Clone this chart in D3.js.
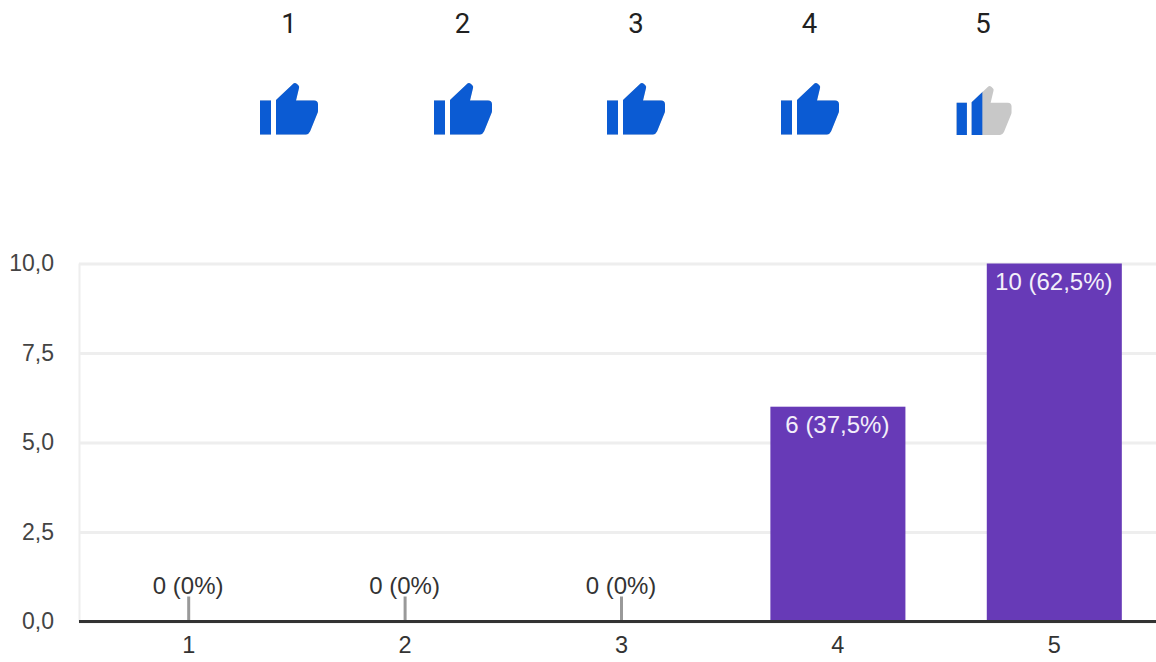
<!DOCTYPE html>
<html>
<head>
<meta charset="utf-8">
<script src="https://cdn.jsdelivr.net/npm/d3@7"></script>
<style>
  html, body { margin: 0; padding: 0; background: #fff; overflow: hidden; }
  svg { display: block; }
</style>
</head>
<body>
<div id="chart"></div>
<script>
const categories = ["1", "2", "3", "4", "5"];
const counts = [0, 0, 0, 6, 10];
const percents = [0, 0, 0, 37.5, 62.5];
const yTicks = [0, 2.5, 5, 7.5, 10];

const ratings = ["1", "2", "3", "4", "5"];
const ratingFill = [1, 1, 1, 1, 0.47];

const W = 1156;
const H = 662;
const M = { top: 263.5, right: -6, bottom: 40.5, left: 80 };

const BLUE = "#0b5bd3";
const PURPLE = "#673ab7";

const svg = d3.select("#chart").append("svg").attr("width", W).attr("height", H);

const locale = d3.formatLocale({ decimal: ",", thousands: ".", grouping: [3], currency: ["", ""] });
const fmtTick = locale.format(".1f");
const fmtPct = locale.format(".1~f");

// Daumen oben
const xRating = d3.scalePoint()
  .domain(ratings)
  .range([289, 983]);

svg.append("g")
  .selectAll("text")
  .data(ratings)
  .join("text")
  .attr("x", d => xRating(d))
  .attr("y", 33)
  .attr("text-anchor", "middle")
  .attr("font-family", "Roboto")
  .attr("font-size", 27.5)
  .attr("fill", "#212121")
  .text(d => d);

const thumbBar = "M-29,17.5H-18V51.5H-29Z";
const thumbHand = "M-13,51.5V17L4.5,0.5Q6,-0.5 8,1L9.5,2.5Q10.5,3.5 10,5L7,17.5H25Q29,17.5 29,21.5V27.5Q29,29 28.5,30L21,48.5Q19.5,51.5 17,51.5Z";

const thumbs = svg.append("g")
  .selectAll("g")
  .data(ratings)
  .join("g")
  .attr("transform", (d, i) => {
    const partial = ratingFill[i] < 1;
    return `translate(${Math.floor(xRating(d) + 0.5) - (partial ? -1 : 0)},${partial ? 86 : 83}) scale(${partial ? 0.95 : 1})`;
  });

thumbs.append("clipPath")
  .attr("id", (d, i) => `thumb-clip-${i}`)
  .append("rect")
  .attr("x", -29)
  .attr("y", -2)
  .attr("height", 56)
  .attr("width", (d, i) => 58 * ratingFill[i]);

thumbs.append("path").attr("d", thumbBar + thumbHand).attr("fill", "#c8c8c8");
thumbs.append("path")
  .attr("d", thumbBar + thumbHand)
  .attr("fill", BLUE)
  .attr("clip-path", (d, i) => `url(#thumb-clip-${i})`);

// Skalen
const x = d3.scaleBand()
  .domain(categories)
  .range([M.left + 0.5, W - M.right + 0.5])
  .paddingInner(0.376)
  .paddingOuter(0.188);

const y = d3.scaleLinear()
  .domain([0, 10])
  .range([H - M.bottom, M.top]);

// Gitter + y-Achse
svg.append("g")
  .attr("transform", `translate(${M.left},0)`)
  .call(d3.axisLeft(y).tickValues(yTicks).tickFormat(fmtTick).tickSize(0).tickPadding(26))
  .call(g => g.select(".domain").remove())
  .call(g => g.selectAll("text")
    .attr("font-family", "'Liberation Sans'")
    .attr("font-size", 23)
    .attr("fill", "#444"))
  .call(g => g.selectAll(".tick").append("line")
    .attr("x1", -1)
    .attr("x2", W - M.left)
    .attr("stroke", "#eeeeee")
    .attr("stroke-width", 3));

svg.append("line")
  .attr("x1", M.left - 0.5)
  .attr("x2", M.left - 0.5)
  .attr("y1", y(10))
  .attr("y2", y(0))
  .attr("stroke", "#eeeeee")
  .attr("stroke-width", 2);

const rows = categories.map((c, i) => ({ cat: c, count: counts[i], pct: percents[i] }));

// Balken
svg.append("g")
  .selectAll("rect")
  .data(rows.filter(d => d.count > 0))
  .join("rect")
  .attr("x", d => x(d.cat))
  .attr("y", d => y(d.count))
  .attr("width", x.bandwidth())
  .attr("height", d => y(0) - y(d.count))
  .attr("fill", PURPLE);

// Kleine Striche bei 0
svg.append("g")
  .selectAll("line")
  .data(rows.filter(d => d.count === 0))
  .join("line")
  .attr("x1", d => x(d.cat) + x.bandwidth() / 2)
  .attr("x2", d => x(d.cat) + x.bandwidth() / 2)
  .attr("y1", y(0) - 25)
  .attr("y2", y(0))
  .attr("stroke", "#999")
  .attr("stroke-width", 3);

// Werte
svg.append("g")
  .selectAll("text")
  .data(rows)
  .join("text")
  .attr("x", d => x(d.cat) + x.bandwidth() / 2 - 0.5)
  .attr("y", d => d.count > 0 ? y(d.count) + 26 : y(0) - 28)
  .attr("text-anchor", "middle")
  .attr("font-family", "'Liberation Sans'")
  .attr("font-size", 24)
  .attr("fill", d => d.count > 0 ? "#f3effa" : "#333")
  .text(d => `${d.count} (${fmtPct(d.pct)}%)`);

// x-Achse
svg.append("g")
  .attr("transform", `translate(0,${y(0)})`)
  .call(d3.axisBottom(x).tickSize(0).tickPadding(15))
  .call(g => g.select(".domain").remove())
  .call(g => g.selectAll("text")
    .attr("font-family", "'Liberation Sans'")
    .attr("font-size", 23.5)
    .attr("fill", "#333"))
  .call(g => g.append("line")
    .attr("x1", M.left - 1)
    .attr("x2", W)
    .attr("stroke", "#333")
    .attr("stroke-width", 3));
</script>
</body>
</html>
